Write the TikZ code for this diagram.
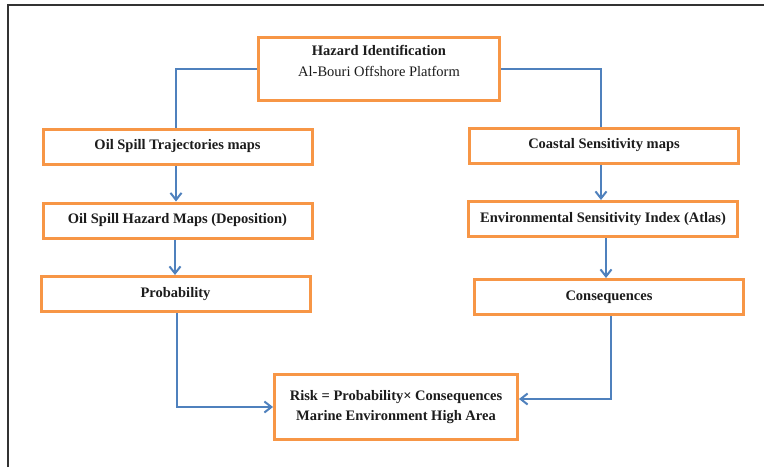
\documentclass[tikz,border=0pt]{standalone}
\usepackage{fontspec}
\setmainfont{Liberation Serif}
\usetikzlibrary{arrows.meta}
\definecolor{boxorange}{RGB}{247,150,70}
\definecolor{linkblue}{RGB}{79,129,189}
\definecolor{txtc}{RGB}{28,28,28}
\begin{document}
\begin{tikzpicture}[x=1pt,y=-1pt,
  box/.style={draw=boxorange,line width=3pt,fill=white,text=txtc,
    font=\fontsize{14.5}{20.5}\selectfont\bfseries,inner sep=0pt,align=center,
    minimum width=269pt,minimum height=35pt},
  link/.style={draw=linkblue,line width=2pt},
  arr/.style={link,-{Straight Barb[length=7pt,width=11pt]}}]
\useasboundingbox (0,0) rectangle (764,467);
\fill[white] (0,0) rectangle (764,467);
\draw[black!80,line width=1.6pt] (8,467) -- (8,5) -- (764,5);

\node[box,minimum width=241pt,minimum height=63pt,font=\fontsize{14.5}{20.5}\selectfont] (hz) at (379,69)
  {\textbf{Hazard Identification}\\Al-Bouri Offshore Platform\\[-4.5pt]\mbox{}};

\node[box] (traj) at (177.5,146.5) {Oil Spill Trajectories maps};
\node[box] (hmap) at (177.5,220.5) {Oil Spill Hazard Maps (Deposition)};
\node[box,minimum height=35pt] (prob) at (175.5,294) {Probability};

\node[box] (coast) at (604,145.5) {Coastal Sensitivity maps};
\node[box] (esi) at (603,219) {Environmental Sensitivity Index (Atlas)};
\node[box] (cons) at (609,297) {Consequences};

\node[box,minimum width=243pt,minimum height=65pt] (risk) at (396,407)
  {Risk = Probability× Consequences\\Marine Environment High Area};

\coordinate (t1) at ([xshift=-1.5pt]traj.south);
\coordinate (h1) at ([xshift=-2.5pt]hmap.south);
\coordinate (c1) at ([xshift=-3pt]coast.south);
\coordinate (e1) at ([xshift=3pt]esi.south);

\draw[link] (hz.west) -| ([xshift=-1.5pt]traj.north);
\draw[link] (hz.east) -| ([xshift=-3pt]coast.north);
\draw[arr] (t1) -- (t1 |- hmap.north);
\draw[arr] (h1) -- (h1 |- prob.north);
\draw[arr] (c1) -- (c1 |- esi.north);
\draw[arr] (e1) -- (e1 |- cons.north);
\draw[arr] ([xshift=1.5pt]prob.south) |- (risk.west);
\draw[arr] ([xshift=2pt]cons.south) |- ([yshift=8pt]risk.east);
\end{tikzpicture}
\end{document}
